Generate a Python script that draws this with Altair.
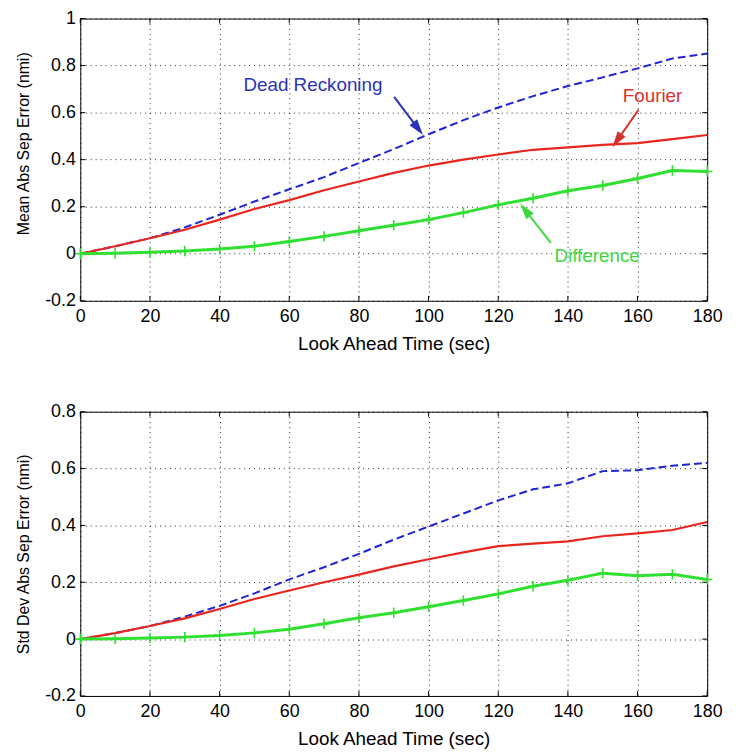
import math
import altair as alt
import pandas as pd

# ---------------- data ----------------
t = list(range(0, 181, 10))

dr_mean = [0, 0.032, 0.066, 0.112, 0.166, 0.222, 0.274, 0.326, 0.386, 0.445,
           0.508, 0.568, 0.622, 0.670, 0.713, 0.750, 0.788, 0.830, 0.851]
fo_mean = [0, 0.032, 0.066, 0.102, 0.145, 0.190, 0.228, 0.270, 0.307, 0.344,
           0.375, 0.400, 0.422, 0.442, 0.452, 0.463, 0.470, 0.487, 0.505]
df_mean = [0, 0.002, 0.006, 0.012, 0.020, 0.032, 0.052, 0.074, 0.098, 0.121,
           0.145, 0.175, 0.208, 0.236, 0.268, 0.290, 0.320, 0.354, 0.350]

dr_std = [0, 0.021, 0.046, 0.079, 0.117, 0.161, 0.210, 0.253, 0.300, 0.350,
          0.396, 0.442, 0.488, 0.527, 0.548, 0.591, 0.594, 0.610, 0.620]
fo_std = [0, 0.021, 0.046, 0.073, 0.106, 0.141, 0.171, 0.200, 0.227, 0.256,
          0.281, 0.305, 0.327, 0.336, 0.344, 0.362, 0.372, 0.384, 0.412]
df_std = [0, 0.001, 0.004, 0.007, 0.013, 0.022, 0.035, 0.054, 0.075, 0.093,
          0.114, 0.136, 0.159, 0.186, 0.207, 0.232, 0.223, 0.228, 0.210]

x_ticks = list(range(0, 181, 20))
y_ticks_mean = [-0.2, 0, 0.2, 0.4, 0.6, 0.8, 1.0]
y_ticks_std = [-0.2, 0, 0.2, 0.4, 0.6, 0.8]

series = ["Dead Reckoning", "Fourier", "Difference"]

# annotations (top panel)
ann_text = ["Dead Reckoning", "Fourier", "Difference"]
ann_x = [66.8, 164.3, 148.4]
ann_y = [0.717, 0.671, -0.008]
arr_x0 = [90.1, 160.3, 135.1]
arr_y0 = [0.667, 0.612, 0.046]
arr_x1 = [97.0, 154.1, 127.7]
arr_y1 = [0.532, 0.481, 0.186]

# ---------------- style ----------------
BLUE, RED, GREEN = "#1f24d4", "#e8261e", "#30e030"
TXT = ["#2a34b8", "#d8302c", "#3ed83e"]
FONT = "Liberation Sans"
W = 633
H_TOP, H_BOT = 285, 287
X_TITLE = "Look Ahead Time (sec)"
TICK = 5


def panel(dr, fo, dif, ydom, yticks, ytitle, height, annotate, title_y=None):
    data = pd.DataFrame({
        "t": t * 3,
        "v": dr + fo + dif,
        "s": [series[0]] * len(t) + [series[1]] * len(t) + [series[2]] * len(t),
    })
    xs = alt.Scale(domain=[0, 180], nice=False, zero=False, padding=0)
    ys = alt.Scale(domain=ydom, nice=False, zero=False, padding=0)
    xaxis = alt.Axis(values=x_ticks, title=X_TITLE, labelFlush=False,
                     labelOverlap=False)
    yargs = dict(values=yticks, title=ytitle, labelFlush=False,
                 labelOverlap=False,
                 labelExpr="'' + round(datum.value*10)/10")
    if title_y is not None:
        yargs["titleY"] = title_y
    yaxis = alt.Axis(**yargs)

    def X(f):
        return alt.X(f"{f}:Q", scale=xs, axis=xaxis)

    def Y(f):
        return alt.Y(f"{f}:Q", scale=ys, axis=yaxis)

    base = alt.Chart(data)
    blue = base.transform_filter(alt.datum.s == series[0]).mark_line(
        color=BLUE, strokeWidth=2, strokeDash=[8, 4]).encode(x=X("t"), y=Y("v"))
    red = base.transform_filter(alt.datum.s == series[1]).mark_line(
        color=RED, strokeWidth=2.2).encode(x=X("t"), y=Y("v"))
    green = base.transform_filter(alt.datum.s == series[2]).mark_line(
        color=GREEN, strokeWidth=3).encode(x=X("t"), y=Y("v"))
    plus = base.transform_filter(alt.datum.s == series[2]).mark_point(
        shape="M0,-1L0,1M-1,0L1,0", filled=False, color=GREEN,
        strokeWidth=1.6, size=110, opacity=1).encode(x=X("t"), y=Y("v"))

    # inward tick marks on all four edges (MATLAB box style)
    xt = alt.Chart(pd.DataFrame({"xt": x_ticks}))
    yt = alt.Chart(pd.DataFrame({"yt": yticks}))
    tb = xt.mark_rule(color="black", strokeWidth=1).encode(
        x=X("xt"), y=alt.value(height), y2=alt.value(height - TICK))
    tt = xt.mark_rule(color="black", strokeWidth=1).encode(
        x=X("xt"), y=alt.value(0), y2=alt.value(TICK))
    tl = yt.mark_rule(color="black", strokeWidth=1).encode(
        y=Y("yt"), x=alt.value(0), x2=alt.value(TICK))
    tr = yt.mark_rule(color="black", strokeWidth=1).encode(
        y=Y("yt"), x=alt.value(W), x2=alt.value(W - TICK))

    layers = [tb, tt, tl, tr, blue, red, green, plus]

    if annotate:
        kx = W / 180.0
        ky = height / (ydom[1] - ydom[0])
        ang = []
        for a, b, c, d in zip(arr_x0, arr_y0, arr_x1, arr_y1):
            dx = (c - a) * kx
            dys = -(d - b) * ky
            ang.append(math.degrees(math.atan2(dx, -dys)) % 360)
        ad = pd.DataFrame({"lab": ann_text, "tx": ann_x, "ty": ann_y,
                           "x0": arr_x0, "y0": arr_y0, "x1": arr_x1,
                           "y1": arr_y1, "ang": ang})
        cscale = alt.Scale(domain=ann_text, range=TXT)
        col = alt.Color("lab:N", scale=cscale, legend=None)
        ab = alt.Chart(ad)
        txt = ab.mark_text(font=FONT, fontSize=19, align="center",
                           baseline="middle").encode(
            x=X("tx"), y=Y("ty"), text="lab:N", color=col)
        rule = ab.mark_rule(strokeWidth=2).encode(
            x=X("x0"), y=Y("y0"), x2="x1:Q", y2="y1:Q", color=col)
        head = ab.mark_point(shape="M0,-1L0.6,1L-0.6,1Z", filled=True,
                             size=260, opacity=1).encode(
            x=X("x1"), y=Y("y1"), angle=alt.Angle("ang:Q", scale=None),
            color=col)
        layers += [rule, head, txt]

    return alt.layer(*layers).properties(width=W, height=height)


top = panel(dr_mean, fo_mean, df_mean, [-0.2, 1.0], y_ticks_mean,
            "Mean Abs Sep Error (nmi)", H_TOP, True, title_y=126)
bot = panel(dr_std, fo_std, df_std, [-0.2, 0.8], y_ticks_std,
            "Std Dev Abs Sep Error (nmi)", H_BOT, False)

chart = alt.vconcat(top, bot, spacing=112, bounds="flush").properties(
    padding={"left": 7, "top": -3, "right": 5, "bottom": 5},
    background="white",
).configure_view(
    stroke="black", strokeWidth=1
).configure_axis(
    grid=True, gridColor="black", gridDash=[1, 4], gridWidth=1, gridOpacity=0.85,
    domain=False, ticks=False,
    labelFont=FONT, labelFontSize=18, labelColor="black", labelPadding=5,
    titleFont=FONT, titleColor="black", titleFontWeight="normal",
).configure_axisX(
    titleFontSize=19, labelPadding=7, titlePadding=9,
).configure_axisY(
    titleFontSize=16, titlePadding=13,
)

chart.save("out.html", embed_options={"renderer": "svg", "actions": False})
